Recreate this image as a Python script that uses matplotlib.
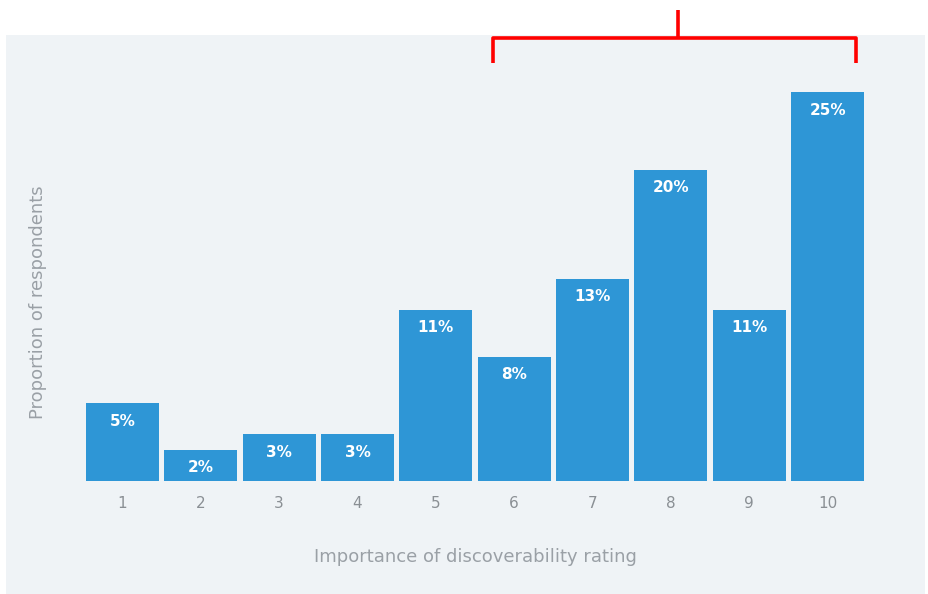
import matplotlib
matplotlib.use("Agg")
import matplotlib.pyplot as plt
from matplotlib.patches import Rectangle
from matplotlib.lines import Line2D

# ratings and share of respondents (%)
ratings = [1, 2, 3, 4, 5, 6, 7, 8, 9, 10]
shares = [5, 2, 3, 3, 11, 8, 13, 20, 11, 25]
labels = [str(s) + "%" for s in shares]

W, H = 929, 594
fig = plt.figure(figsize=(W / 100, H / 100), dpi=100)
fig.patch.set_facecolor("white")

# light panel behind the chart
fig.patches.append(Rectangle((6 / W, 0), (925 - 6) / W, (H - 35) / H,
                             transform=fig.transFigure, facecolor="#eff3f6",
                             edgecolor="none", zorder=-10))

bw = 0.93
left_px, right_px = 86, 864
base_px, top_px = 481, 92
ax = fig.add_axes([left_px / W, (H - base_px) / H,
                   (right_px - left_px) / W, (base_px - top_px) / H])
ax.set_facecolor("none")
ax.bar(ratings, shares, width=bw, color="#2e96d6")
ax.set_xlim(1 - bw / 2, 10 + bw / 2)
ax.set_ylim(0, 25)

for x, y, t in zip(ratings, shares, labels):
    ax.annotate(t, (x, y), xytext=(0, -13), textcoords="offset points",
                ha="center", va="center", color="white", fontsize=11,
                fontweight="bold")

for s in ax.spines.values():
    s.set_visible(False)
ax.set_yticks([])
ax.set_xticks(ratings)
ax.tick_params(axis="x", length=0, pad=11, labelsize=11, labelcolor="#8a8f94")

fig.text(475 / W, 1 - 557 / H, "Importance of discoverability rating",
         ha="center", va="center", fontsize=13, color="#9aa0a6")
fig.text(38 / W, 1 - 302 / H, "Proportion of respondents", rotation=90,
         ha="center", va="center", fontsize=13, color="#9aa0a6")

# red bracket over ratings 6-10
red = dict(color="#ff0000", linewidth=2.6, transform=fig.transFigure,
           solid_capstyle="butt")
fy = lambda py: 1 - py / H
fx = lambda px: px / W
fig.lines.append(Line2D([fx(493), fx(493), fx(856), fx(856)],
                        [fy(63), fy(38), fy(38), fy(63)], **red))
fig.lines.append(Line2D([fx(678), fx(678)], [fy(10), fy(38)], **red))

fig.savefig("out.png", dpi=100)
